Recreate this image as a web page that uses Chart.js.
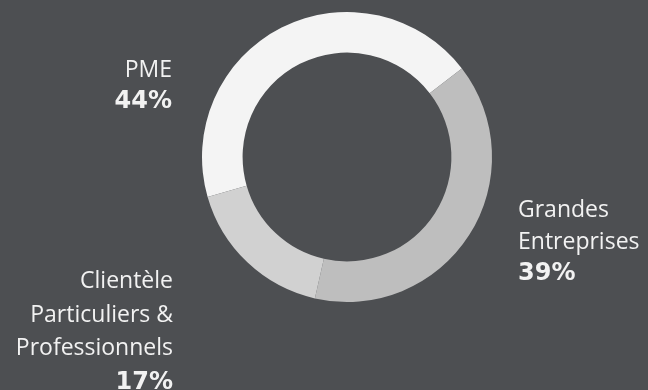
<!DOCTYPE html>
<html lang="fr">
<head>
<meta charset="utf-8">
<title>Répartition de la clientèle</title>
<script src="https://cdn.jsdelivr.net/npm/chart.js@4"></script>
<style>
  html, body { margin: 0; padding: 0; background: #4d4f52; }
  #wrap { width: 648px; height: 390px; position: relative; }
</style>
</head>
<body>
<div id="wrap"><canvas id="clientChart"></canvas></div>
<script>
// Segments, in drawing order (clockwise)
const segments = ['PME', 'Grandes Entreprises', 'Clientèle Particuliers & Professionnels'];
const shares = [44, 39, 17];
const segmentColors = ['#f4f4f4', '#bebebe', '#d1d1d1'];

// Label lines per segment, and which side of the ring they sit on
const labelLines = [
    ['PME'],
    ['Grandes', 'Entreprises'],
    ['Clientèle', 'Particuliers &', 'Professionnels']
];
const labelSide = ['left', 'right', 'left'];

const FONT = '"Open Sans", "Noto Sans", sans-serif';
const PCT_FONT = '"DejaVu Sans", "Open Sans", sans-serif';

// Writes the name + percentage blocks beside the ring
const sideLabels = {
    id: 'sideLabels',
    afterDraw(chart) {
        const ctx = chart.ctx;
        const area = chart.chartArea;
        // anchor points relative to the chart area (text block tops)
        const anchors = [
            { x: area.left - 30, y: area.top + 45 },
            { x: area.right + 26, y: area.top + 185 },
            { x: area.left - 29, y: area.top + 256 }
        ];
        ctx.save();
        ctx.fillStyle = '#f2f2f2';
        ctx.textBaseline = 'alphabetic';
        labelLines.forEach((lines, i) => {
            const a = anchors[i];
            ctx.textAlign = labelSide[i] === 'left' ? 'right' : 'left';
            const step = i === 0 ? 31 : (i === 1 ? 31.5 : 33.5);
            let y = a.y + 20;
            ctx.font = '23px ' + FONT;
            lines.forEach(line => {
                ctx.fillText(line, a.x, y);
                y += step;
            });
            ctx.font = 'bold 24px ' + PCT_FONT;
            ctx.fillText(shares[i] + '%', a.x, y);
        });
        ctx.restore();
    }
};

const ctx = document.getElementById('clientChart').getContext('2d');
new Chart(ctx, {
    type: 'doughnut',
    data: {
        labels: segments,
        datasets: [{
            data: shares,
            backgroundColor: segmentColors,
            borderWidth: 0,
            hoverOffset: 0
        }]
    },
    options: {
        responsive: true,
        maintainAspectRatio: false,
        animation: false,
        rotation: -106,
        cutout: '72%',
        layout: {
            padding: { left: 202, right: 156, top: 12, bottom: 88 }
        },
        plugins: {
            legend: { display: false },
            tooltip: { enabled: false }
        }
    },
    plugins: [sideLabels]
});
</script>
</body>
</html>
